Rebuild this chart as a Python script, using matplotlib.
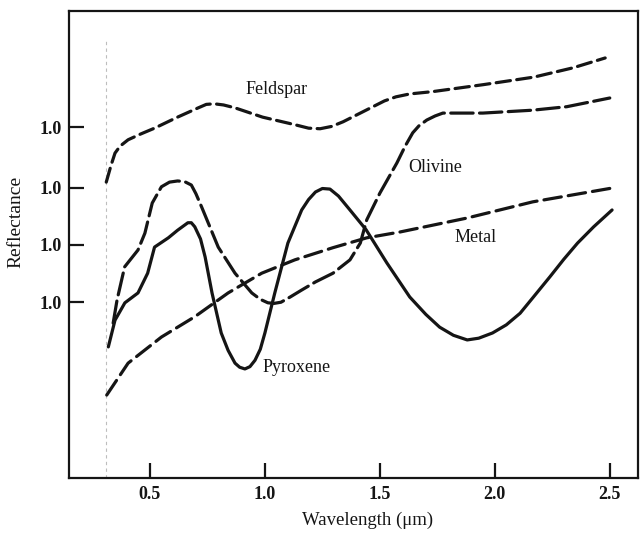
import numpy as np
import matplotlib
matplotlib.use("Agg")
import matplotlib.pyplot as plt

plt.rcParams["font.family"] = ["Liberation Serif", "DejaVu Serif"]

# reflectance spectra, read in wavelength (um) and arbitrary reflectance units
feldspar_wl = [0.31, 0.33, 0.348, 0.37, 0.405, 0.46, 0.52, 0.62, 0.71, 0.745,
               0.78, 0.82, 0.87, 0.99, 1.13, 1.19, 1.24, 1.29, 1.34, 1.47,
               1.52, 1.57, 1.63, 1.73, 1.95, 2.17, 2.34, 2.48]
feldspar_r = [5.10, 5.38, 5.60, 5.72, 5.83, 5.93, 6.03, 6.22, 6.38, 6.44,
              6.45, 6.43, 6.38, 6.22, 6.09, 6.03, 6.02, 6.06, 6.14, 6.40,
              6.50, 6.57, 6.62, 6.66, 6.78, 6.91, 7.07, 7.24]

olivine_wl = [0.34, 0.357, 0.39, 0.448, 0.478, 0.51, 0.55, 0.585, 0.62, 0.65,
              0.68, 0.70, 0.725, 0.797, 0.87, 0.943, 0.98, 1.013, 1.04, 1.07,
              1.11, 1.16, 1.22, 1.296, 1.37, 1.415, 1.443, 1.5, 1.574, 1.61,
              1.643, 1.67, 1.704, 1.74, 1.774, 1.948, 2.165, 2.313, 2.5]
olivine_r = [2.67, 3.07, 3.64, 3.93, 4.22, 4.74, 5.02, 5.10, 5.12, 5.11,
             5.05, 4.90, 4.67, 3.98, 3.53, 3.19, 3.08, 3.02, 3.01, 3.03,
             3.12, 3.24, 3.38, 3.53, 3.76, 4.05, 4.45, 4.91, 5.43, 5.72,
             5.95, 6.07, 6.17, 6.24, 6.29, 6.29, 6.34, 6.40, 6.55]

pyroxene_wl = [0.319, 0.348, 0.391, 0.448, 0.49, 0.52, 0.58, 0.62, 0.665, 0.68,
               0.695, 0.72, 0.74, 0.77, 0.81, 0.84, 0.87, 0.89, 0.913, 0.935,
               0.957, 0.98, 1.0, 1.043, 1.1, 1.16, 1.19, 1.22, 1.25, 1.283,
               1.32, 1.37, 1.44, 1.53, 1.63, 1.70, 1.76, 1.82, 1.88, 1.93,
               1.99, 2.05, 2.11, 2.17, 2.24, 2.30, 2.36, 2.43, 2.51]
pyroxene_r = [2.26, 2.72, 3.02, 3.19, 3.53, 3.98, 4.14, 4.27, 4.40, 4.40,
              4.33, 4.12, 3.81, 3.19, 2.50, 2.20, 1.98, 1.91, 1.88, 1.92,
              2.03, 2.22, 2.50, 3.19, 4.05, 4.62, 4.80, 4.93, 4.99, 4.98,
              4.86, 4.62, 4.28, 3.71, 3.12, 2.82, 2.60, 2.46, 2.38, 2.41,
              2.50, 2.64, 2.84, 3.13, 3.47, 3.77, 4.05, 4.33, 4.62]

metal_wl = [0.312, 0.405, 0.55, 0.695, 0.84, 0.986, 1.13, 1.296, 1.443, 1.587,
            1.878, 2.165, 2.513]
metal_r = [1.43, 1.98, 2.43, 2.78, 3.19, 3.53, 3.76, 3.97, 4.14, 4.24,
           4.48, 4.76, 5.00]

x_ticks = [0.5, 1.0, 1.5, 2.0, 2.5]
x_ticklabels = ["0.5", "1.0", "1.5", "2.0", "2.5"]
y_ticks = [3.03, 4.02, 5.0, 6.05]
y_ticklabels = ["1.0", "1.0", "1.0", "1.0"]

fig = plt.figure(figsize=(6.42, 5.35), dpi=100)
ax = fig.add_axes([0.1075, 0.1065, 0.886, 0.873])

ink = "#151515"
ax.axvline(0.31, ymin=0.0, ymax=0.94, color="#bdbdbd", lw=0.8, ls=(0, (3, 3)))

ax.plot(feldspar_wl, feldspar_r, color=ink, lw=2.3, ls=(0, (4.5, 2.0)),
        dash_capstyle="round")
ax.plot(olivine_wl, olivine_r, color=ink, lw=2.3, ls=(0, (7, 2.0)),
        dash_capstyle="round")
ax.plot(pyroxene_wl, pyroxene_r, color=ink, lw=2.3, solid_capstyle="round",
        solid_joinstyle="round")
ax.plot(metal_wl, metal_r, color=ink, lw=2.3, ls=(0, (5.5, 2.2)),
        dash_capstyle="round")

lbl = dict(fontsize=13, color=ink)
ax.text(1.05, 6.7, "Feldspar", ha="center", va="center", **lbl)
ax.text(1.74, 5.35, "Olivine", ha="center", va="center", **lbl)
ax.text(1.915, 4.15, "Metal", ha="center", va="center", **lbl)
ax.text(0.99, 1.90, "Pyroxene", ha="left", va="center", **lbl)

ax.set_xlim(0.148, 2.622)
ax.set_ylim(0, 8.05)
ax.set_xticks(x_ticks)
ax.set_xticklabels(x_ticklabels)
ax.set_yticks(y_ticks)
ax.set_yticklabels(y_ticklabels)
ax.tick_params(direction="in", length=11, width=1.6, color=ink,
               labelsize=13, labelcolor=ink)
ax.tick_params(axis="x", pad=6)
ax.tick_params(axis="y", pad=5)
for t in ax.get_xticklabels() + ax.get_yticklabels():
    t.set_fontweight("bold")
for s in ax.spines.values():
    s.set_linewidth(1.6)
    s.set_color(ink)

ax.set_xlabel("Wavelength (μm)", fontsize=13.5, color=ink)
ax.set_ylabel("Reflectance", fontsize=14, color=ink)
ax.xaxis.set_label_coords(0.524, -0.073)
ax.yaxis.set_label_coords(-0.079, 0.548)

fig.savefig("out.png", dpi=100)
